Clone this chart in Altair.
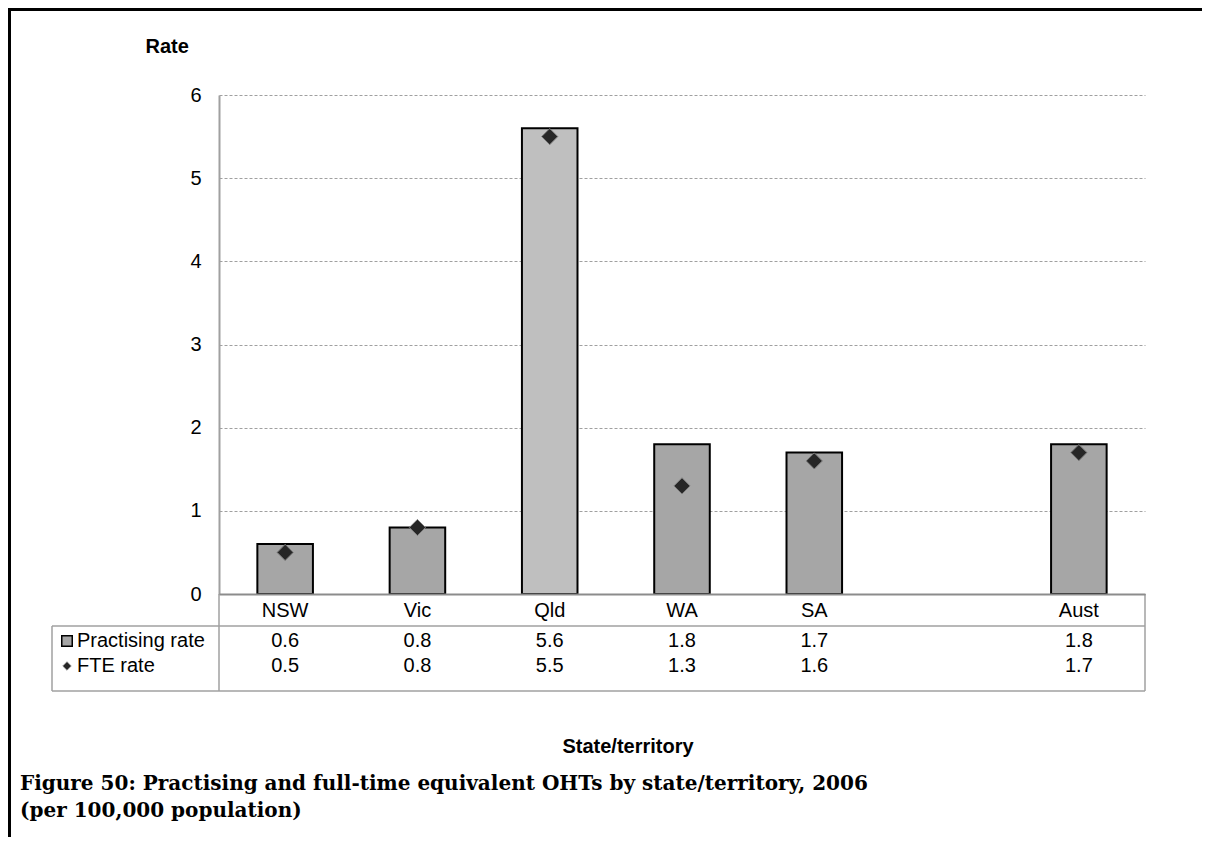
import altair as alt
import pandas as pd

# ---- data ----
categories = ["NSW", "Vic", "Qld", "WA", "SA", "Aust"]
slots = ["NSW", "Vic", "Qld", "WA", "SA", " ", "Aust"]
practising = [0.6, 0.8, 5.6, 1.8, 1.7, 1.8]
fte = [0.5, 0.8, 5.5, 1.3, 1.6, 1.7]
bar_colors = ["#A6A6A6", "#A6A6A6", "#BFBFBF", "#A6A6A6", "#A6A6A6", "#A6A6A6"]
y_ticks = [0, 1, 2, 3, 4, 5, 6]
row_labels = ["Practising rate", "FTE rate"]
x_title = "State/territory"
y_title = "Rate"
caption = [
    "Figure 50: Practising and full-time equivalent OHTs by state/territory, 2006",
    "(per 100,000 population)",
]

W, H = 926, 499
SANS = "Liberation Sans"
SERIF = "DejaVu Serif"
GRID = "#A0A0A0"

df = pd.DataFrame({"state": categories, "practising": practising, "fte": fte, "color": bar_colors})
one = pd.DataFrame({"k": [0]})

xscale = alt.Scale(domain=slots, paddingInner=0.58, paddingOuter=0.29)
yscale = alt.Scale(domain=[0, 6], nice=False)

bars = alt.Chart(df).mark_bar(stroke="#000000", strokeWidth=2).encode(
    x=alt.X("state:N", scale=xscale, sort=slots,
            axis=alt.Axis(title=None, labelAngle=0, labelFontSize=20, labelFont=SANS,
                          labelColor="#000000", labelPadding=6, domainColor="#8C8C8C",
                          domainWidth=2, ticks=False, grid=False, zindex=1)),
    y=alt.Y("practising:Q", scale=yscale,
            axis=alt.Axis(values=y_ticks, format="d", title=y_title, titleAngle=0,
                          titleAlign="left", titleBaseline="middle", titleX=-74, titleY=-49,
                          titleFontSize=20, titleFont=SANS, titleFontWeight="bold",
                          titleColor="#000000", labelFontSize=20, labelFont=SANS,
                          labelColor="#000000", labelPadding=18, ticks=False,
                          domainColor=GRID, domainWidth=2, gridColor=GRID,
                          gridDash=[3, 2], gridWidth=1)),
    fill=alt.Fill("color:N", scale=None),
)

points = alt.Chart(df).mark_point(shape="diamond", filled=True, size=260, fill="#262626",
                                  stroke="#7F7F7F", strokeWidth=1, opacity=1).encode(
    x=alt.X("state:N", scale=xscale, sort=slots),
    y=alt.Y("fte:Q", scale=yscale),
)

row1 = alt.Chart(df).mark_text(fontSize=20, font=SANS, color="#000000").encode(
    x=alt.X("state:N", scale=xscale, sort=slots),
    y=alt.value(546),
    text=alt.Text("practising:Q", format=".1f"),
)
row2 = alt.Chart(df).mark_text(fontSize=20, font=SANS, color="#000000").encode(
    x=alt.X("state:N", scale=xscale, sort=slots),
    y=alt.value(571),
    text=alt.Text("fte:Q", format=".1f"),
)


def label(txt, x, y, size=20, font=SANS, weight="normal", align="left"):
    return alt.Chart(one).mark_text(fontSize=size, font=font, fontWeight=weight, align=align,
                                    baseline="middle", color="#000000").encode(
        x=alt.value(x), y=alt.value(y), text=alt.value(txt))


def hline(x1, x2, y, color=GRID, w=1.5):
    return alt.Chart(one).mark_rule(color=color, strokeWidth=w).encode(
        x=alt.value(x1), x2=alt.value(x2), y=alt.value(y))


def vline(x, y1, y2, color=GRID, w=1.5):
    return alt.Chart(one).mark_rule(color=color, strokeWidth=w).encode(
        x=alt.value(x), y=alt.value(y1), y2=alt.value(y2))


sym1 = alt.Chart(one).mark_point(shape="square", filled=True, size=110, fill="#A6A6A6",
                                 stroke="#000000", strokeWidth=1.5, opacity=1).encode(
    x=alt.value(-152), y=alt.value(546))
sym2 = alt.Chart(one).mark_point(shape="diamond", filled=True, size=70, fill="#262626",
                                 stroke="#7F7F7F", strokeWidth=1, opacity=1).encode(
    x=alt.value(-152), y=alt.value(571))

layers = [
    hline(-167, W, 531), hline(-167, W, 596),
    vline(-167, 531, 596), vline(0, 499, 596), vline(W, 499, 596),
    bars, points, row1, row2, sym1, sym2,
    label(row_labels[0], -142, 546), label(row_labels[1], -142, 571),
    label(x_title, 409, 652, weight="bold", align="center"),
    label(caption[0], -199, 689, size=20, font=SERIF, weight="bold"),
    label(caption[1], -199, 716, size=20, font=SERIF, weight="bold"),
    hline(-211, 983, -85.5, color="#000000", w=3),
    vline(-209.5, -87, 742, color="#000000", w=3),
]

chart = alt.layer(*layers).properties(
    width=W, height=H,
    autosize=alt.AutoSizeParams(type="none"),
    padding={"left": 211, "top": 87, "right": 57, "bottom": 243},
).configure_view(stroke=None)

chart.save("out.html", embed_options={"renderer": "svg", "actions": False})
